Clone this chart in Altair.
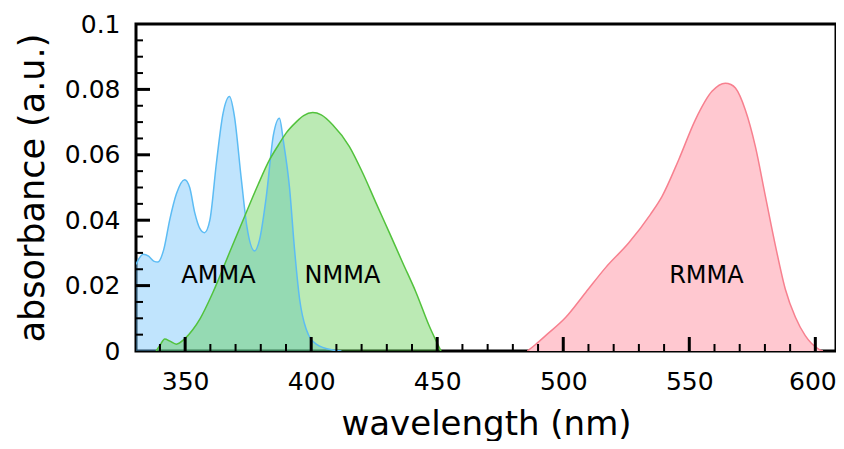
import altair as alt
import pandas as pd

# AMMA (blue)
amma_nm = [330.5, 331.5, 333.3, 335.5, 337.5, 339.2, 341.5, 343.9, 346.5, 349.8, 351.8, 353.8, 355.8,
           357.7, 359.8, 362.4, 365.0, 367.6, 369.5, 372.3, 374.5, 377.5, 379.5, 382.2, 385.0, 387.4,
           389.0, 391.4, 393.4, 395.4, 398.0, 402.0, 408.5, 412.0]
amma_abs = [0.0265, 0.028, 0.0296, 0.029, 0.0275, 0.0272, 0.031, 0.0402, 0.048, 0.0524, 0.050, 0.0423,
            0.0375, 0.0362, 0.040, 0.0575, 0.0725, 0.0778, 0.072, 0.0524, 0.038, 0.0306, 0.034, 0.0473,
            0.066, 0.0712, 0.064, 0.050, 0.031, 0.0159, 0.0067, 0.0021, 0.0003, 0.0]

# NMMA (green)
nmma_nm = [338.5, 339.9, 341.9, 344.0, 346.5, 349.8, 353.0, 356.0, 361.0, 367.6, 374.2, 379.0, 383.5,
           387.0, 390.1, 394.0, 397.0, 400.6, 404.0, 408.5, 415.1, 420.4, 425.7, 431.0, 436.3, 441.6,
           446.8, 451.5]
nmma_abs = [0.0, 0.0016, 0.0037, 0.0030, 0.0021, 0.0037, 0.0065, 0.010, 0.0179, 0.0301, 0.0423, 0.051,
            0.0585, 0.063, 0.0667, 0.070, 0.0720, 0.0729, 0.0722, 0.0692, 0.0626, 0.0545, 0.0453, 0.0362,
            0.027, 0.0179, 0.0077, 0.0]

# RMMA (pink)
rmma_nm = [485.8, 489.0, 493.0, 501.0, 508.9, 516.8, 526.0, 534.6, 539.2, 545.8, 552.4, 559.0, 564.3,
           566.5, 568.3, 572.2, 576.2, 580.2, 584.2, 588.1, 592.1, 596.0, 601.3, 603.0]
rmma_abs = [0.0, 0.002, 0.0047, 0.0103, 0.0179, 0.0255, 0.0331, 0.0418, 0.0473, 0.0585, 0.0707, 0.0794,
            0.0819, 0.0815, 0.0804, 0.0738, 0.0626, 0.0473, 0.0321, 0.0189, 0.0103, 0.0047, 0.0006, 0.0]

label_text = ["AMMA", "NMMA", "RMMA"]
label_nm = [363.2, 412.4, 556.8]
label_abs = [0.0229, 0.0229, 0.0229]

x_major = [350, 400, 450, 500, 550, 600]
x_minor = [v for v in range(340, 610, 10) if v not in x_major]
y_major = [0.02, 0.04, 0.06, 0.08]
y_minor = [round(0.005 * i, 3) for i in range(1, 20) if i % 4 != 0]
y_labels = [0, 0.02, 0.04, 0.06, 0.08, 0.1]

FONT = "DejaVu Sans"
W, H = 700, 327

xscale = alt.Scale(domain=[330.5, 608.2], nice=False, zero=False)
yscale = alt.Scale(domain=[0, 0.1], nice=False)

x_axis = alt.Axis(values=x_major, ticks=False, domain=False, grid=False, labelFontSize=25,
                  labelPadding=18, labelFont=FONT, labelColor="black",
                  labelOffset=alt.ExprRef(expr="datum.value == 600 ? -3 : 0"),
                  title="wavelength (nm)",
                  titleFont=FONT, titleFontSize=34, titleFontWeight="normal", titleColor="black",
                  titlePadding=13)
y_axis = alt.Axis(values=y_labels, format="~g", ticks=False, domain=False, grid=False,
                  labelFontSize=25, labelPadding=16, labelFont=FONT, labelColor="black",
                  title="absorbance (a.u.)", titleFont=FONT, titleFontSize=35,
                  titleFontWeight="normal", titleColor="black", titlePadding=14)


def X(field):
    return alt.X(field, scale=xscale, axis=x_axis)


def Y(field):
    return alt.Y(field, scale=yscale, axis=y_axis)


series = [
    (amma_nm, amma_abs, "#62bbfa", 0.4, "#5cbcf4"),
    (nmma_nm, nmma_abs, "#55ca43", 0.4, "#52c23c"),
    (rmma_nm, rmma_abs, "#ffc8d0", 1.0, "#f7808f"),
]

layers = []
for nm, ab, fill, op, stroke in series:
    df = pd.DataFrame({"nm": nm, "abs": ab})
    layers.append(
        alt.Chart(df).mark_area(interpolate="monotone", color=fill, opacity=op, clip=True)
        .encode(x=X("nm:Q"), y=Y("abs:Q"))
    )
for nm, ab, fill, op, stroke in series:
    df = pd.DataFrame({"nm": nm, "abs": ab})
    layers.append(
        alt.Chart(df).mark_line(interpolate="monotone", color=stroke, strokeWidth=1.5, clip=True)
        .encode(x=X("nm:Q"), y=Y("abs:Q"))
    )

# inward ticks
layers.append(alt.Chart(pd.DataFrame({"nm": x_major})).mark_rule(color="black", strokeWidth=3)
              .encode(x=X("nm:Q"), y=alt.value(H), y2=alt.value(H - 14)))
layers.append(alt.Chart(pd.DataFrame({"nm": x_minor})).mark_rule(color="black", strokeWidth=2)
              .encode(x=X("nm:Q"), y=alt.value(H), y2=alt.value(H - 7)))
layers.append(alt.Chart(pd.DataFrame({"abs": y_major})).mark_rule(color="black", strokeWidth=3)
              .encode(y=Y("abs:Q"), x=alt.value(0), x2=alt.value(14)))
layers.append(alt.Chart(pd.DataFrame({"abs": y_minor})).mark_rule(color="black", strokeWidth=2)
              .encode(y=Y("abs:Q"), x=alt.value(0), x2=alt.value(7)))

layers.append(
    alt.Chart(pd.DataFrame({"t": label_text, "nm": label_nm, "abs": label_abs}))
    .mark_text(font=FONT, fontSize=24, color="black", align="center", baseline="middle")
    .encode(x=X("nm:Q"), y=Y("abs:Q"), text="t:N")
)

chart = alt.layer(*layers).properties(
    width=W, height=H, autosize="none", background="white",
    padding={"left": 128, "top": 16, "right": 0, "bottom": 90},
).configure_view(stroke="black", strokeWidth=3)

chart.save("out.html", embed_options={"renderer": "svg", "actions": False})
